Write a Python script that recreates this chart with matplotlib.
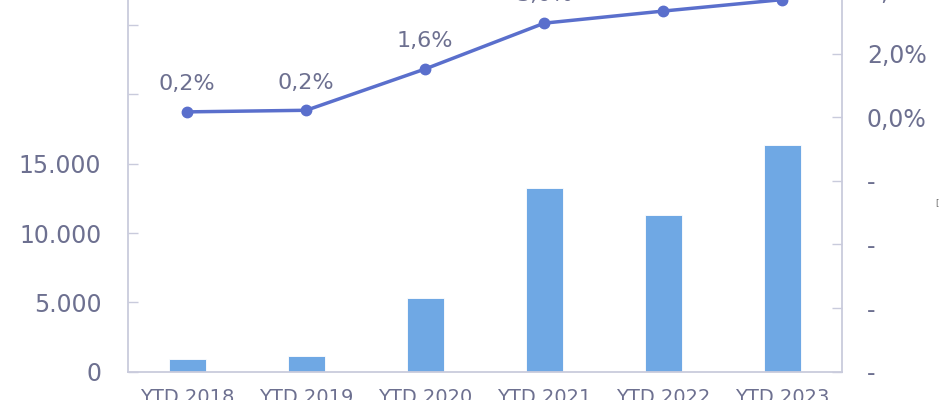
import matplotlib
matplotlib.use("Agg")
import matplotlib.pyplot as plt
from matplotlib.ticker import FixedLocator, FixedFormatter

# data
categories = ["YTD 2018", "YTD 2019", "YTD 2020", "YTD 2021", "YTD 2022", "YTD 2023"]
volumes = [900, 1150, 5300, 13250, 11300, 16350]
share_pct = [0.17, 0.22, 1.52, 2.96, 3.34, 3.70]
share_labels = ["0,2%", "0,2%", "1,6%", "3,0%", "3,3%", "3,7%"]

left_ticks = [0, 5000, 10000, 15000, 20000, 25000]
left_ticklabels = ["0", "5.000", "10.000", "15.000", "", ""]
right_ticks = [-8, -6, -4, -2, 0, 2, 4]
right_ticklabels = ["-", "-", "-", "-", "0,0%", "2,0%", "4,0%"]

text_col = "#6d7090"
spine_col = "#c9cbdc"
bar_col = "#6fa8e4"
line_col = "#5a6fcc"

plt.rcParams['font.family'] = ['DejaVu Sans']

fig = plt.figure(figsize=(9.4, 4), dpi=100)
# the chart is a crop: the plot area runs past the top edge of the image
ax = fig.add_axes([0.1359, 0.0708, 0.7596, 1.0293])
x = list(range(len(categories)))

ax.bar(x, volumes, width=0.31, color=bar_col, edgecolor="white", linewidth=0.6, zorder=2)
ax.set_xlim(-0.5, len(categories) - 0.5)
ax.set_ylim(0, 29704)
ax.yaxis.set_major_locator(FixedLocator(left_ticks))
ax.yaxis.set_major_formatter(FixedFormatter(left_ticklabels))
ax.set_xticks(x)
ax.set_xticklabels(categories)
ax.tick_params(axis='y', direction='in', length=7, width=1, color=spine_col,
               labelsize=17, labelcolor=text_col, pad=19)
ax.tick_params(axis='x', length=0, labelsize=14, labelcolor=text_col, pad=12)

ax2 = ax.twinx()
ax2.plot(x, share_pct, color=line_col, linewidth=2.5, marker='o', markersize=7.5,
         clip_on=False, zorder=3)
for xi, v, lab in zip(x, share_pct, share_labels):
    ax2.annotate(lab, (xi, v), xytext=(0, 20), textcoords='offset points',
                 ha='center', va='center', fontsize=16, color=text_col)
ax2.set_ylim(-8, 4.947)
ax2.yaxis.set_major_locator(FixedLocator(right_ticks))
ax2.yaxis.set_major_formatter(FixedFormatter(right_ticklabels))
ax2.tick_params(axis='y', direction='in', length=7, width=1, color=spine_col,
                labelsize=17, labelcolor=text_col, pad=18)

for a in (ax, ax2):
    for side in ("left", "right", "bottom"):
        a.spines[side].set_color(spine_col)
        a.spines[side].set_linewidth(1.3)
    a.spines["top"].set_visible(False)
ax.spines["right"].set_visible(False)
ax2.spines["left"].set_visible(False)
ax2.spines["bottom"].set_visible(False)

fig.text(0.997, 1 - 203 / 400, "[", fontsize=6, color="#666666", ha='center', va='center')

fig.savefig("out.png", dpi=100)
